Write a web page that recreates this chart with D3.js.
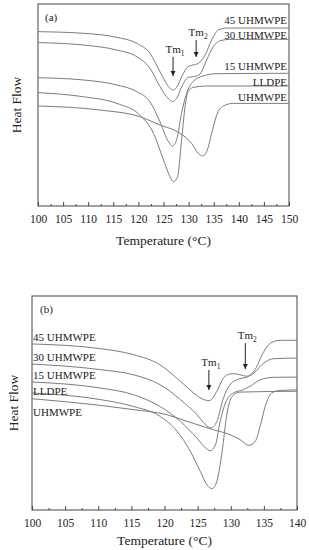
<!DOCTYPE html>
<html>
<head>
<meta charset="utf-8">
<script src="https://cdn.jsdelivr.net/npm/d3@7"></script>
<style>
  html, body { margin: 0; padding: 0; background: #fff; }
  svg { display: block; font-family: "Liberation Serif", "DejaVu Serif", serif; }
</style>
</head>
<body>
<svg id="chart" width="309" height="550"></svg>
<script>
// ── Data (temperature °C, heat flow a.u.) ───────────────────────────────
const ticksA = [100, 105, 110, 115, 120, 125, 130, 135, 140, 145, 150];
const ticksB = [100, 105, 110, 115, 120, 125, 130, 135, 140];

const a45 = [[100,86.3],[109,85.5],[115.7,83.5],[119.7,80.5],[122.3,75.6],[124.3,66.5],[126,59.1],[126.8,57.4],
  [127.6,58.7],[128.8,64.9],[129.9,69],[130.9,69.8],[131.9,70.6],[133.3,74.8],[134.6,82.2],[135.9,87.1],[137.6,88.1],[150,88.1]];
const a30 = [[100,80.9],[109,79.7],[115.7,77.2],[119.7,73.9],[122.3,68.2],[124.3,59.1],[126,53],[126.8,51.7],
  [127.6,53.3],[128.8,59.9],[129.9,63.7],[130.9,64],[132.1,64.9],[133.6,72.3],[134.9,78.9],[136.3,81.8],[138.2,82.5],[150,82.5]];
const a15 = [[100,63.5],[109,62.4],[115.7,59.9],[119.7,56.6],[122.3,51.6],[124.3,41.7],[126,31.8],[126.8,29.7],
  [127.6,32.7],[128.6,45.9],[129.6,55.8],[130.9,61.6],[132.9,64.4],[135.6,65.5],[150,65.7]];
const aLL = [[100,56.1],[109,54.1],[115.7,50.8],[120.3,45],[123,36],[125,22.8],[126.3,14.5],[127,12],
  [127.8,14.5],[128.6,32.7],[129.3,49.2],[129.9,56.6],[130.9,58.7],[133.6,59.4],[150,59.4]];
const aUH = [[100,49.5],[112.4,47.5],[120.3,44.2],[124.3,40.1],[128.3,36],[130.6,31],[131.9,26.1],[132.8,24.8],
  [133.6,26.9],[134.6,36],[135.6,45],[136.9,49.5],[138.9,50.8],[150,50.8]];

const b45 = [[100,77.6],[110.3,75.4],[115.3,72.6],[119.3,67.9],[122.4,60.1],[124.4,54.7],[125.9,51.6],[126.8,51.1],
  [127.9,55.5],[128.9,61.7],[129.9,63.6],[130.4,63.7],[131.4,63.2],[132.4,62.5],[133.5,64.8],[135,74.1],[136,78],[137.5,79.3],[140,79.3]];
const b30 = [[100,68.2],[110.3,65.6],[115.3,63.2],[119.3,58.6],[122.4,51.6],[124.9,44.5],[126.2,39.9],[127,38.3],
  [127.9,41.4],[128.9,52.3],[129.9,58.6],[131.4,61.4],[132.4,62],[133.5,64],[135,68.7],[136.5,70.7],[140,71]];
const b15 = [[100,59.8],[110.3,57],[115.3,53.9],[119.3,48.4],[122.4,41.4],[124.9,33.6],[126.2,29],[126.9,27.7],
  [127.7,30.5],[128.4,41.4],[129.2,50],[130.4,54.7],[131.9,56.2],[132.9,57.8],[134.5,60.9],[136.5,62],[140,62.1]];
const bLL = [[100,54.7],[110.3,51.6],[115.3,48.4],[119.3,43.8],[121.9,36.8],[123.9,27.4],[125.4,18.1],[126.4,11.8],
  [127.2,10],[127.9,13.4],[128.7,27.4],[129.4,44.5],[130.2,53.1],[131.4,55.1],[140,55.5]];
const bUH = [[100,52],[110.3,48.9],[115.3,46.9],[120.4,44.5],[123.4,41.4],[127.4,37.5],[129.9,35.2],[131.4,32.9],
  [132.7,30.2],[133.7,32.1],[134.5,39.9],[135.2,48.4],[136.2,54.7],[137.5,55.9],[140,56.1]];

// curve labels: [text, temperature, heat flow]
const labelsA = [["45 UHMWPE",150,90.1],["30 UHMWPE",150,82.7],["15 UHMWPE",150,67.3],["LLDPE",150,59.4],["UHMWPE",150,52]];
const labelsB = [["45 UHMWPE",100,79],["30 UHMWPE",100,69.4],["15 UHMWPE",100,61.2],["LLDPE",100,53.7],["UHMWPE",100,43.9]];

// Tm arrows: [sub, temperature, arrow top, arrow bottom]
const tmA = [["1",126.9,73.8,64.4],["2",131.5,82.2,73.8]];
const tmB = [["1",126.7,65.4,56.1],["2",132.2,78,65.9]];

// ── Helpers ─────────────────────────────────────────────────────────────
const AX = "#444";
const LN = "#7c7c7c";
const svg = d3.select("#chart");

svg.append("defs").append("marker")
  .attr("id", "arr").attr("viewBox", "0 0 10 10")
  .attr("refX", 10).attr("refY", 5)
  .attr("markerWidth", 5).attr("markerHeight", 6).attr("markerUnits", "userSpaceOnUse")
  .attr("orient", "auto")
  .append("path").attr("d", "M0,0 L10,5 L0,10 Z").attr("fill", "#222");

function panel(opt) {
  const x = d3.scaleLinear().domain(opt.xDomain).range([opt.left, opt.right]);
  const y = d3.scaleLinear().domain([0, 100]).range([opt.bottom, opt.top]);
  const g = svg.append("g");

  // minor ticks
  const minor = d3.range(opt.xDomain[0] + 2.5, opt.xDomain[1], 5);
  g.append("g").attr("transform", `translate(0,${opt.bottom})`)
    .call(d3.axisBottom(x).tickValues(minor).tickSizeInner(-2).tickSizeOuter(0).tickFormat(""))
    .call(s => s.select(".domain").remove())
    .selectAll("line").attr("stroke", AX);

  // major ticks
  const ax = g.append("g").attr("transform", `translate(0,${opt.bottom})`)
    .call(d3.axisBottom(x).tickValues(opt.ticks).tickSizeInner(-4).tickSizeOuter(0).tickPadding(9));
  ax.select(".domain").remove();
  ax.selectAll("line").attr("stroke", AX);
  ax.selectAll("text").attr("fill", "#222").style("font-size", "11.5px")
    .style("font-family", "Liberation Serif, serif");

  // frame
  g.append("rect")
    .attr("x", opt.left).attr("y", opt.top)
    .attr("width", opt.right - opt.left).attr("height", opt.bottom - opt.top)
    .attr("fill", "none").attr("stroke", AX).attr("stroke-width", 1);

  // curves
  const line = d3.line().x(d => x(d[0])).y(d => y(d[1])).curve(d3.curveMonotoneX);
  g.selectAll(".curve").data(opt.series).enter().append("path")
    .attr("fill", "none").attr("stroke", LN).attr("stroke-width", 1)
    .attr("d", line);

  // curve labels
  g.selectAll(".lab").data(opt.labels).enter().append("text")
    .attr("x", d => x(d[1]) + opt.labelDx)
    .attr("y", d => y(d[2]))
    .attr("text-anchor", opt.labelAnchor)
    .attr("fill", "#222").style("font-size", "11px")
    .text(d => d[0]);

  // Tm arrows
  g.selectAll(".tmline").data(opt.tm).enter().append("line")
    .attr("x1", d => x(d[1])).attr("x2", d => x(d[1]))
    .attr("y1", d => y(d[2])).attr("y2", d => y(d[3]))
    .attr("stroke", "#222").attr("stroke-width", 1)
    .attr("marker-end", "url(#arr)");
  const tmt = g.selectAll(".tmt").data(opt.tm).enter().append("text")
    .attr("x", d => x(d[1]) + 2).attr("y", d => y(d[2]) - 4)
    .attr("text-anchor", "middle").attr("fill", "#222").style("font-size", "11px");
  tmt.append("tspan").text("Tm");
  tmt.append("tspan").attr("dy", 3).style("font-size", "7.5px").text(d => d[0]);

  // panel tag
  g.append("text").attr("x", opt.left + opt.tagDx).attr("y", opt.top + 17)
    .attr("fill", "#222").style("font-size", "11px").text(opt.tag);

  // axis titles
  g.append("text").attr("x", (opt.left + opt.right) / 2 + opt.xtDx).attr("y", opt.xtY)
    .attr("text-anchor", "middle").attr("fill", "#222").style("font-size", "13.5px")
    .text("Temperature (°C)");
  g.append("text")
    .attr("transform", `translate(${opt.ytX},${(opt.top + opt.bottom) / 2}) rotate(-90)`)
    .attr("text-anchor", "middle").attr("fill", "#222").style("font-size", "13.5px")
    .text("Heat Flow");
}

panel({
  xDomain: [100, 150], ticks: ticksA, left: 38, right: 289, top: 4, bottom: 206,
  series: [a45, a30, a15, aLL, aUH], labels: labelsA, labelDx: -2, labelAnchor: "end",
  tm: tmA, tag: "(a)", tagDx: 7, xtDx: 0, xtY: 245, ytX: 21
});

panel({
  xDomain: [100, 140], ticks: ticksB, left: 32, right: 297, top: 296, bottom: 510,
  series: [b45, b30, b15, bLL, bUH], labels: labelsB, labelDx: 1, labelAnchor: "start",
  tm: tmB, tag: "(b)", tagDx: 8, xtDx: 0, xtY: 545, ytX: 18
});
</script>
</body>
</html>
